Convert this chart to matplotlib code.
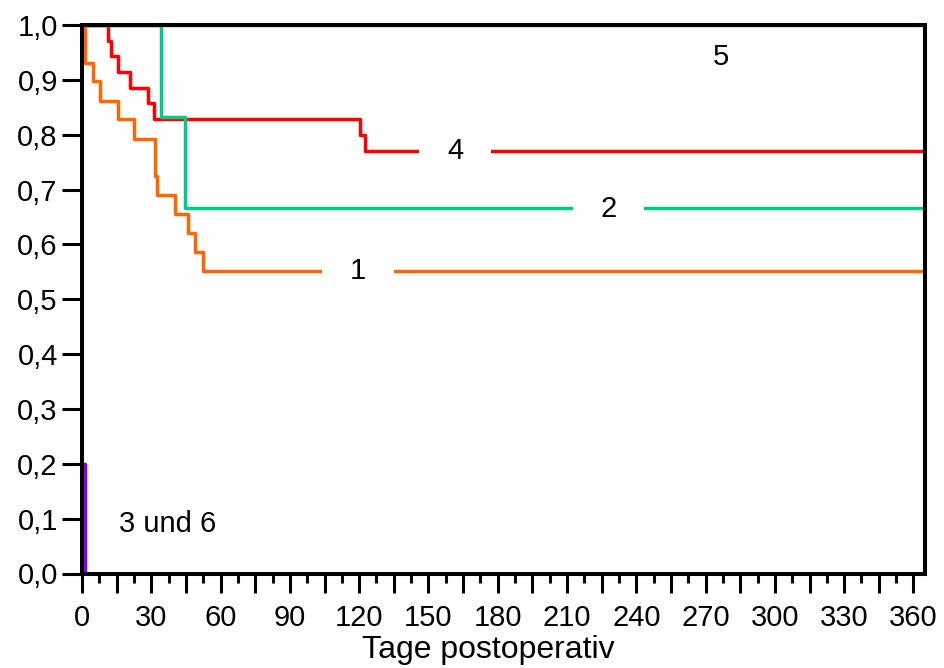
import matplotlib
matplotlib.use('Agg')
import matplotlib.pyplot as plt
from matplotlib.ticker import FixedLocator, MultipleLocator, FuncFormatter

plt.rcParams['font.family'] = ['Liberation Sans', 'DejaVu Sans']

# Kaplan-Meier steps: days postoperative, survival fraction
days_1 = [0, 1.3, 4.9, 7.8, 15.7, 22.4, 31.6, 32.4, 40.3, 46.1, 49.0, 52.6, 365]
surv_1 = [1.0, 0.931, 0.897, 0.862, 0.828, 0.793, 0.724, 0.690, 0.655, 0.621, 0.586, 0.552, 0.552]

days_2 = [0, 34.2, 44.6, 365]
surv_2 = [1.0, 0.833, 0.667, 0.667]

days_4 = [0, 11.4, 12.6, 15.5, 20.8, 28.7, 31.3, 120.2, 122.6, 365]
surv_4 = [1.0, 0.971, 0.943, 0.914, 0.886, 0.857, 0.829, 0.799, 0.770, 0.770]

days_5 = [0, 365]
surv_5 = [1.0, 1.0]

days_36 = [0, 1.3]
surv_36 = [0.2, 0.0]

x_ticks = list(range(0, 361, 15))
y_ticks = [0.0, 0.1, 0.2, 0.3, 0.4, 0.5, 0.6, 0.7, 0.8, 0.9, 1.0]
y_tick_labels = ['0,0', '0,1', '0,2', '0,3', '0,4', '0,5', '0,6', '0,7', '0,8', '0,9', '1,0']

fig = plt.figure(figsize=(9.45, 6.68), dpi=100)
ax = fig.add_axes([82 / 945, 1 - 573.5 / 668, 843 / 945, 548.5 / 668])

lw = 2.5
ax.step(days_5, surv_5, where='post', color='#00dd00', lw=lw)
ax.step(days_4, surv_4, where='post', color='#ff0000', lw=lw)
ax.step(days_1, surv_1, where='post', color='#ff6600', lw=lw)
ax.step(days_2, surv_2, where='post', color='#00cc88', lw=lw)
ax.step(days_36, surv_36, where='post', color='#8000ff', lw=lw)

# curve labels, the white box cuts the gap into the line
gap = dict(boxstyle='square,pad=0.95', facecolor='white', edgecolor='none')
ax.text(119.5, 0.551, '1', fontsize=21, ha='center', va='center', bbox=gap, zorder=5)
ax.text(228, 0.664, '2', fontsize=21, ha='center', va='center', bbox=gap, zorder=5)
ax.text(161.5, 0.770, '4', fontsize=21, ha='center', va='center', bbox=gap, zorder=5)
ax.text(276.5, 0.942, '5', fontsize=21, ha='center', va='center', zorder=5)
ax.text(37, 0.091, '3 und 6', fontsize=21, ha='center', va='center', zorder=5)

ax.set_xlim(0, 365)
ax.set_ylim(0, 1.0)

ax.xaxis.set_major_locator(FixedLocator(x_ticks))
ax.xaxis.set_major_formatter(FuncFormatter(lambda v, p: '%d' % v if v % 30 == 0 else ''))
ax.xaxis.set_minor_locator(MultipleLocator(7.5))
ax.set_yticks(y_ticks)
ax.set_yticklabels(y_tick_labels)

for s in ax.spines.values():
    s.set_linewidth(2.9)

ax.tick_params(axis='x', which='major', direction='out', length=13.5, width=2.2,
               labelsize=21, pad=8.5)
ax.tick_params(axis='x', which='minor', direction='out', length=6.5, width=2.2)
ax.tick_params(axis='y', which='major', direction='out', length=14.4, width=2.2,
               labelsize=21, pad=3)

ax.set_xlabel('Tage postoperativ', fontsize=23)
ax.xaxis.set_label_coords(0.4816, -0.113)

fig.savefig('out.png', dpi=100)
